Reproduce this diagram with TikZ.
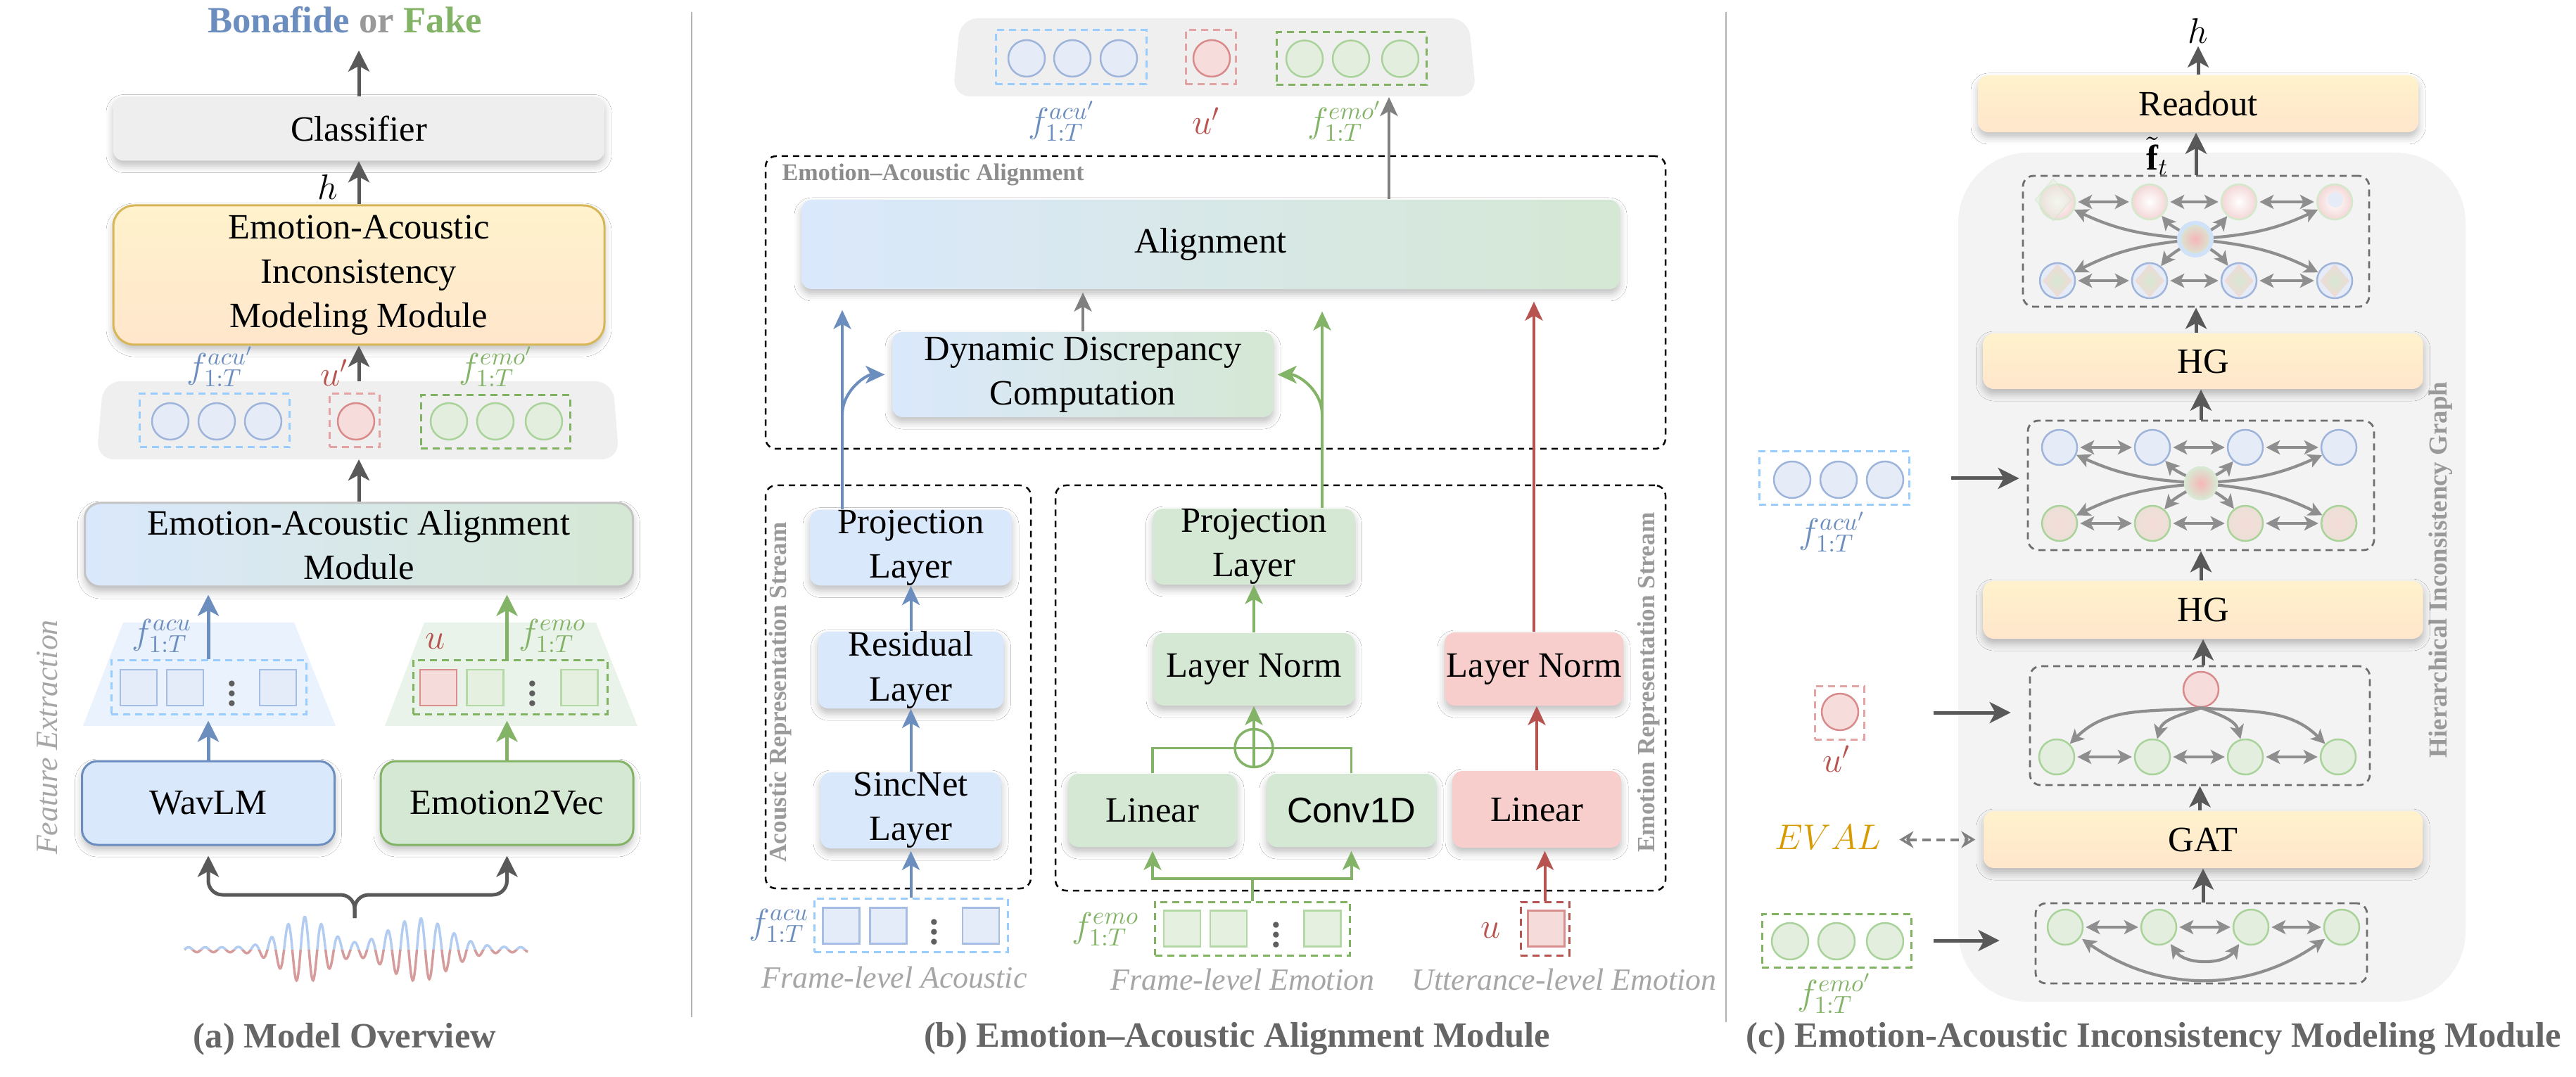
\documentclass[tikz,border=0pt]{standalone}
\usepackage{fontspec}
\setmainfont{Liberation Serif}
\newfontfamily\convfont{Liberation Sans}
\usetikzlibrary{arrows.meta,shapes.geometric,shadows.blur}

\definecolor{bluestroke}{HTML}{6C8EBF}
\definecolor{bluefill}{HTML}{DAE8FC}
\definecolor{greenstroke}{HTML}{82B366}
\definecolor{greenfill}{HTML}{D5E8D4}
\definecolor{redstroke}{HTML}{B85450}
\definecolor{redfill}{HTML}{F8CECC}
\definecolor{goldtop}{HTML}{FFF2CC}
\definecolor{goldbot}{HTML}{FFE6CC}
\definecolor{goldstroke}{HTML}{D6B656}
\definecolor{clsgray}{HTML}{EEEEEE}
\definecolor{stripgray}{HTML}{EFEFEF}
\definecolor{bggray}{HTML}{F3F3F3}
\definecolor{arrowgray}{HTML}{595959}
\definecolor{midgray}{HTML}{808080}
\definecolor{orgray}{HTML}{999999}
\definecolor{captgray}{HTML}{666666}
\definecolor{regiongray}{HTML}{8C8C8C}
\definecolor{streamgray}{HTML}{9A9A9A}
\definecolor{italgray}{HTML}{A6A6A6}
\definecolor{eaamgray}{HTML}{C4C4C4}
\definecolor{acudash}{HTML}{99CCFF}
\definecolor{udash}{HTML}{E3A3A3}
\definecolor{emodash}{HTML}{7FB362}
\definecolor{acucircdraw}{HTML}{9EB4DA}
\definecolor{acucircfill}{HTML}{E5ECF7}
\definecolor{ucircdraw}{HTML}{D98A8A}
\definecolor{ucircfill}{HTML}{F7DCDC}
\definecolor{emocircdraw}{HTML}{A9D39A}
\definecolor{emocircfill}{HTML}{E3EEDF}
\definecolor{acusqdraw}{HTML}{A6BEE4}
\definecolor{acusqfill}{HTML}{E4ECFA}
\definecolor{emosqdraw}{HTML}{B5D8A7}
\definecolor{emosqfill}{HTML}{E5F0E1}
\definecolor{usqdraw}{HTML}{D98E8E}
\definecolor{usqfill}{HTML}{F5DCDA}
\definecolor{wavblue}{HTML}{B3CDF2}
\definecolor{wavred}{HTML}{D69C9C}
\definecolor{edgegray}{HTML}{8E8E8E}
\definecolor{dashgray}{HTML}{6E6E6E}
\definecolor{divgray}{HTML}{B3B3B3}
\definecolor{evalgold}{HTML}{D79B00}
\definecolor{dotgray}{HTML}{5F5F5F}
\definecolor{pinkouter}{HTML}{F4D6D6}
\definecolor{beigeouter}{HTML}{EBE0D6}
\definecolor{centerred}{HTML}{F5B7B7}
\definecolor{centergreen}{HTML}{D9E8D3}
\definecolor{centerring}{HTML}{CFE2F8}
\definecolor{pinkdia}{HTML}{F1D9D6}
\definecolor{greendia}{HTML}{D6E8D2}

\tikzset{
  modbox/.style={rounded corners=0.15cm, align=center, font=\Large, inner sep=0pt,
    blur shadow={shadow xshift=0cm, shadow yshift=-0.07cm, shadow blur radius=0.1cm, shadow opacity=25}},
  bluebox/.style={modbox, fill=bluefill},
  greenbox/.style={modbox, fill=greenfill},
  redbox/.style={modbox, fill=redfill},
  mixbox/.style={modbox, left color=bluefill, right color=greenfill},
  goldbox/.style={modbox, top color=goldtop, bottom color=goldbot},
  graybox/.style={modbox, fill=clsgray},
  regionbox/.style={draw=black, line width=0.025cm, dash pattern=on 0.09cm off 0.07cm, rounded corners=0.15cm, inner sep=0pt},
  graphbox/.style={draw=dashgray, line width=0.028cm, dash pattern=on 0.1cm off 0.07cm, rounded corners=0.15cm, inner sep=0pt},
  featbox/.style={line width=0.03cm, dash pattern=on 0.1cm off 0.07cm, inner sep=0pt, minimum height=0.76cm},
  acucirc/.style={circle, draw=acucircdraw, fill=acucircfill, line width=0.025cm, minimum size=0.52cm, inner sep=0pt},
  ucirc/.style={circle, draw=ucircdraw, fill=ucircfill, line width=0.025cm, minimum size=0.52cm, inner sep=0pt},
  emocirc/.style={circle, draw=emocircdraw, fill=emocircfill, line width=0.025cm, minimum size=0.52cm, inner sep=0pt},
  acusq/.style={draw=acusqdraw, fill=acusqfill, line width=0.025cm, minimum width=0.52cm, minimum height=0.51cm, inner sep=0pt},
  emosq/.style={draw=emosqdraw, fill=emosqfill, line width=0.025cm, minimum width=0.52cm, minimum height=0.51cm, inner sep=0pt},
  usq/.style={draw=usqdraw, fill=usqfill, line width=0.025cm, minimum width=0.52cm, minimum height=0.51cm, inner sep=0pt},
  dotlab/.style={text=dotgray, font=\Large\bfseries, inner sep=0pt},
  gnode/.style={circle, line width=0.025cm, minimum size=0.5cm, inner sep=0pt},
  flow/.style={-{Stealth[length=0.3cm,width=0.3cm,inset=0.08cm]}, line width=0.05cm, draw=arrowgray},
  flowb/.style={-{Stealth[length=0.27cm,width=0.25cm,inset=0.07cm]}, line width=0.04cm},
  gedge/.style={draw=edgegray, line width=0.042cm},
  gtip/.style={-{Stealth[length=0.2cm,width=0.2cm,inset=0.05cm]}},
  gboth/.style={{Stealth[length=0.2cm,width=0.2cm,inset=0.05cm]}-{Stealth[length=0.2cm,width=0.2cm,inset=0.05cm]}, shorten <=0.03cm, shorten >=0.03cm},
  mathlab/.style={font=\Large, inner sep=1pt},
  captionlab/.style={font=\Large\bfseries, text=captgray, inner sep=1pt},
  italcap/.style={font=\fontsize{12.5}{15}\selectfont\itshape, text=italgray, inner sep=1pt},
  streamlab/.style={font=\fontsize{10}{12}\selectfont\bfseries, text=streamgray, rotate=90, inner sep=1pt},
}

\begin{document}
\begin{tikzpicture}[declare function={wavenv(\x)=0.035+0.43*exp(max(-9,-(\x-4.33)*(\x-4.33)/0.2))+0.41*exp(max(-9,-(\x-5.95)*(\x-5.95)/0.35));}]
\fill[white] (0,0) rectangle (36.61,-15.31);
\useasboundingbox (0,0) rectangle (36.61,-15.31);

% (a) model overview
\node[font=\fontsize{15}{18}\selectfont\bfseries, anchor=base, inner sep=1pt] (verdict) at (4.90,-0.47) {\textcolor{bluestroke}{Bonafide} \textcolor{orgray}{or} \textcolor{greenstroke}{Fake}};
\node[graybox, minimum width=6.98cm, minimum height=0.91cm] (cls) at (5.10,-1.83) {Classifier};
\node[goldbox, draw=goldstroke, line width=0.03cm, rounded corners=0.3cm, minimum width=6.98cm, minimum height=1.98cm] (eaim) at (5.10,-3.91) {Emotion-Acoustic\\Inconsistency\\Modeling Module};
\node[mathlab] (hA) at (4.66,-2.66) {$h$};
\draw[flow, shorten >=0.2cm] (cls.north) -- (cls.north |- verdict.south);
\draw[flow] (eaim.north) -- (cls.south);

\fill[stripgray, rounded corners=0.25cm] (1.47,-5.42) -- (8.71,-5.42) -- (8.80,-6.53) -- (1.37,-6.53) -- cycle;
\coordinate (stripAtop) at (5.10,-5.42);
\coordinate (stripAbot) at (5.10,-6.53);
\node[featbox, draw=acudash, minimum width=2.13cm] (acuA) at (3.05,-5.98) {};
\node[acucirc] (acuA1) at (2.42,-5.99) {};
\node[acucirc] (acuA2) at (3.08,-5.99) {};
\node[acucirc] (acuA3) at (3.74,-5.99) {};
\node[featbox, draw=udash, minimum width=0.71cm] (uA) at (5.04,-5.98) {};
\node[ucirc] (uA1) at (5.06,-5.99) {};
\node[featbox, draw=emodash, minimum width=2.12cm] (emoA) at (7.04,-6.00) {};
\node[emocirc] (emoA1) at (6.38,-5.99) {};
\node[emocirc] (emoA2) at (7.04,-5.99) {};
\node[emocirc] (emoA3) at (7.73,-5.99) {};
\node[mathlab, text=bluestroke] (acuAlab) at (3.13,-5.21) {$f_{1:T}^{acu'}$};
\node[mathlab, text=redstroke] (uAlab) at (4.75,-5.30) {$u'$};
\node[mathlab, text=greenstroke] (emoAlab) at (7.05,-5.21) {$f_{1:T}^{emo'}$};
\draw[flow] (stripAtop) -- (stripAtop |- eaim.south);

\node[mixbox, draw=eaamgray, line width=0.03cm, rounded corners=0.22cm, minimum width=7.79cm, minimum height=1.19cm] (eaamA) at (5.10,-7.745) {Emotion-Acoustic Alignment\\Module};
\draw[flow] (eaamA.north) -- (stripAbot);

\fill[bluefill, opacity=0.55] (1.75,-8.85) -- (4.18,-8.85) -- (4.77,-10.32) -- (1.18,-10.32) -- cycle;
\fill[greenfill, opacity=0.5] (6.03,-8.85) -- (8.47,-8.85) -- (9.06,-10.32) -- (5.47,-10.32) -- cycle;

\node[featbox, draw=acudash, minimum width=2.77cm, minimum height=0.77cm] (acuF) at (2.965,-9.765) {};
\node[acusq] (acuF1) at (1.97,-9.775) {};
\node[acusq] (acuF2) at (2.63,-9.775) {};
\node[dotlab] (acuFdots) at (3.30,-9.76) {$\vdots$};
\node[acusq] (acuF3) at (3.95,-9.775) {};
\node[featbox, draw=emodash, minimum width=2.76cm, minimum height=0.77cm] (emoF) at (7.25,-9.765) {};
\node[usq] (uF1) at (6.23,-9.775) {};
\node[emosq] (emoF1) at (6.895,-9.775) {};
\node[dotlab] (emoFdots) at (7.57,-9.76) {$\vdots$};
\node[emosq] (emoF2) at (8.235,-9.775) {};
\node[mathlab, text=bluestroke] (acuFlab) at (2.30,-9.04) {$f_{1:T}^{acu}$};
\node[mathlab, text=redstroke] (uFlab) at (6.19,-9.12) {$u$};
\node[mathlab, text=greenstroke] (emoFlab) at (7.85,-9.04) {$f_{1:T}^{emo}$};

\node[bluebox, draw=bluestroke, line width=0.03cm, rounded corners=0.22cm, minimum width=3.59cm, minimum height=1.19cm] (wav) at (2.96,-11.415) {WavLM};
\node[greenbox, draw=greenstroke, line width=0.03cm, rounded corners=0.22cm, minimum width=3.59cm, minimum height=1.19cm] (e2v) at (7.205,-11.415) {Emotion2Vec};
\draw[flow, draw=bluestroke, shorten >=0.08cm] (wav.north) -- (wav.north |- acuF.south);
\draw[flow, draw=bluestroke, shorten >=0.1cm] (acuF.north -| wav.north) -- (wav.north |- eaamA.south);
\draw[flow, draw=greenstroke, shorten >=0.08cm] (e2v.north) -- (e2v.north |- emoF.south);
\draw[flow, draw=greenstroke, shorten >=0.1cm] (emoF.north -| e2v.north) -- (e2v.north |- eaamA.south);

\coordinate (wavtop) at (5.04,-13.05);
\draw[flow, rounded corners=0.2cm, shorten >=0.14cm] (wavtop) -- ++(0,0.33) -| (wav.south);
\draw[flow, rounded corners=0.2cm, shorten >=0.14cm] (wavtop) -- ++(0,0.33) -| (e2v.south);
\begin{scope}
\clip (2.5,-12.8) rectangle (7.6,-13.50);
\draw[wavblue, line width=0.035cm] plot[domain=2.62:7.50, samples=600] (\x,{-13.50+wavenv(\x)*sin(1525*(\x-2.62))});
\end{scope}
\begin{scope}
\clip (2.5,-13.50) rectangle (7.6,-14.2);
\draw[wavred, line width=0.035cm] plot[domain=2.62:7.50, samples=600] (\x,{-13.50+wavenv(\x)*sin(1525*(\x-2.62))});
\end{scope}

\node[rotate=90, font=\fontsize{12.5}{15}\selectfont\itshape, text=italgray, inner sep=1pt] (featext) at (0.67,-10.48) {Feature Extraction};
\node[captionlab] (capA) at (4.90,-14.77) {(a) Model Overview};
\draw[divgray, line width=0.02cm] (9.83,-0.17) -- (9.83,-14.46);

% (b) emotion-acoustic alignment module
\fill[stripgray, rounded corners=0.25cm] (13.65,-0.26) -- (20.87,-0.26) -- (20.98,-1.37) -- (13.54,-1.37) -- cycle;
\node[featbox, draw=acudash, minimum width=2.14cm, minimum height=0.77cm] (acuT) at (15.22,-0.815) {};
\node[acucirc] (acuT1) at (14.59,-0.83) {};
\node[acucirc] (acuT2) at (15.24,-0.83) {};
\node[acucirc] (acuT3) at (15.90,-0.83) {};
\node[featbox, draw=udash, minimum width=0.71cm, minimum height=0.77cm] (uT) at (17.205,-0.815) {};
\node[ucirc] (uT1) at (17.22,-0.83) {};
\node[featbox, draw=emodash, minimum width=2.13cm, minimum height=0.75cm] (emoT) at (19.205,-0.835) {};
\node[emocirc] (emoT1) at (18.54,-0.835) {};
\node[emocirc] (emoT2) at (19.20,-0.835) {};
\node[emocirc] (emoT3) at (19.90,-0.835) {};
\node[mathlab, text=bluestroke] (acuTlab) at (15.09,-1.72) {$f_{1:T}^{acu'}$};
\node[mathlab, text=redstroke] (uTlab) at (17.14,-1.72) {$u'$};
\node[mathlab, text=greenstroke] (emoTlab) at (19.11,-1.72) {$f_{1:T}^{emo'}$};
\coordinate (stripBbot) at (19.74,-1.38);

\node[regionbox, minimum width=12.79cm, minimum height=4.16cm] (eaareg) at (17.275,-4.30) {};
\node[anchor=west, font=\fontsize{9.7}{11}\selectfont\bfseries, text=regiongray, inner sep=0pt] (eaaregtitle) at (11.11,-2.48) {Emotion--Acoustic Alignment};
\node[mixbox, minimum width=11.63cm, minimum height=1.27cm] (align) at (17.205,-3.475) {Alignment};
\node[mixbox, minimum width=5.42cm, minimum height=1.21cm] (ddc) at (15.39,-5.325) {Dynamic Discrepancy\\Computation};
\draw[flowb, draw=midgray] (align.north -| stripBbot) -- (stripBbot);
\draw[flowb, draw=midgray, shorten >=0.04cm] (ddc.north) -- (ddc.north |- align.south);

\node[regionbox, minimum width=3.77cm, minimum height=5.73cm] (acustream) at (12.765,-9.765) {};
\node[regionbox, minimum width=8.67cm, minimum height=5.76cm] (emostream) at (19.335,-9.78) {};
\node[streamlab] (acustreamlab) at (11.09,-9.84) {Acoustic Representation Stream};
\node[streamlab] (emostreamlab) at (23.43,-9.70) {Emotion Representation Stream};

\node[bluebox, minimum width=2.87cm, minimum height=1.07cm] (proj) at (12.945,-7.785) {Projection\\Layer};
\node[bluebox, minimum width=2.64cm, minimum height=1.05cm] (res) at (12.945,-9.525) {Residual\\Layer};
\node[bluebox, minimum width=2.57cm, minimum height=1.08cm] (sinc) at (12.945,-11.52) {SincNet\\Layer};
\draw[flowb, draw=bluestroke] (sinc.north) -- (res.south);
\draw[flowb, draw=bluestroke] (res.north) -- (proj.south);

\node[greenbox, minimum width=2.87cm, minimum height=1.04cm] (gproj) at (17.82,-7.77) {Projection\\Layer};
\node[greenbox, minimum width=2.86cm, minimum height=1.03cm] (gln) at (17.82,-9.515) {Layer Norm};
\node[greenbox, minimum width=2.40cm, minimum height=1.04cm] (glin) at (16.38,-11.52) {Linear};
\node[greenbox, minimum width=2.41cm, minimum height=1.04cm] (gconv) at (19.205,-11.52) {{\convfont Conv1D}};
\node[circle, draw=greenstroke, line width=0.035cm, minimum size=0.54cm, inner sep=0pt] (oplus) at (17.82,-10.635) {};
\draw[greenstroke, line width=0.035cm] (oplus.north) -- (oplus.south);
\draw[greenstroke, line width=0.035cm] (glin.north) |- (oplus.east);
\draw[greenstroke, line width=0.035cm] (gconv.north) |- (oplus.west);
\draw[flowb, draw=greenstroke] (oplus.north) -- (gln.south);
\draw[flowb, draw=greenstroke] (gln.north) -- (gproj.south);

\node[redbox, minimum width=2.54cm, minimum height=1.04cm] (rln) at (21.80,-9.51) {Layer Norm};
\node[redbox, minimum width=2.40cm, minimum height=1.09cm] (rlin) at (21.84,-11.505) {Linear};
\draw[flowb, draw=redstroke] (rlin.north) -- (rlin.north |- rln.south);

\coordinate (bluefork) at (11.97,-5.90);
\coordinate (greenfork) at (18.79,-5.90);
\draw[flowb, draw=bluestroke, shorten >=0.29cm] (proj.north -| bluefork) -- (align.south -| bluefork);
\draw[flowb, draw=bluestroke, shorten >=0.1cm] (bluefork) to[out=90, in=180] (ddc.west);
\draw[flowb, draw=greenstroke, shorten >=0.31cm] (gproj.north -| greenfork) -- (align.south -| greenfork);
\draw[flowb, draw=greenstroke, shorten >=0.05cm] (greenfork) to[out=90, in=0] (ddc.east);
\draw[flowb, draw=redstroke, shorten >=0.17cm] (rln.north) -- (rln.north |- align.south);

\node[featbox, draw=acudash, minimum width=2.75cm] (acuB) at (12.945,-13.15) {};
\node[acusq] (acuB1) at (11.955,-13.16) {};
\node[acusq] (acuB2) at (12.625,-13.16) {};
\node[dotlab] (acuBdots) at (13.28,-13.15) {$\vdots$};
\node[acusq] (acuB3) at (13.94,-13.16) {};
\node[mathlab, text=bluestroke] (acuBlab) at (11.07,-13.16) {$f_{1:T}^{acu}$};
\draw[flowb, draw=bluestroke, shorten >=0.03cm] (acuB.north) -- (sinc.south);

\node[featbox, draw=emodash, minimum width=2.77cm] (emoB) at (17.80,-13.20) {};
\node[emosq] (emoB1) at (16.80,-13.20) {};
\node[emosq] (emoB2) at (17.46,-13.20) {};
\node[dotlab] (emoBdots) at (18.14,-13.19) {$\vdots$};
\node[emosq] (emoB3) at (18.795,-13.20) {};
\node[mathlab, text=greenstroke] (emoBlab) at (15.71,-13.21) {$f_{1:T}^{emo}$};
\coordinate (gsplit) at (17.80,-12.49);
\draw[greenstroke, line width=0.035cm] (emoB.north) -- (gsplit);
\draw[flowb, draw=greenstroke, shorten >=0.05cm] (gsplit) -| (glin.south);
\draw[flowb, draw=greenstroke, shorten >=0.05cm] (gsplit) -| (gconv.south);

\node[featbox, draw=redstroke, minimum width=0.69cm] (uB) at (21.955,-13.20) {};
\node[usq] (uB1) at (21.975,-13.20) {};
\node[mathlab, text=redstroke] (uBlab) at (21.19,-13.23) {$u$};
\draw[flowb, draw=redstroke, shorten >=0.04cm] (uB.north) -- (uB.north |- rlin.south);

\node[italcap] (acuBcap) at (12.71,-13.90) {Frame-level Acoustic};
\node[italcap] (emoBcap) at (17.66,-13.92) {Frame-level Emotion};
\node[italcap] (uBcap) at (22.23,-13.92) {Utterance-level Emotion};
\node[captionlab] (capB) at (17.58,-14.77) {(b) Emotion--Acoustic Alignment Module};
\draw[divgray, line width=0.02cm] (24.53,-0.17) -- (24.53,-14.53);

% (c) emotion-acoustic inconsistency modeling module
\fill[bggray, rounded corners=1cm] (27.83,-2.17) rectangle (35.04,-14.24);
\node[streamlab, font=\fontsize{10.5}{12}\selectfont\bfseries, text=orgray] (hiclab) at (34.69,-8.10) {Hierarchical Inconsistency Graph};

\node[mathlab] (hC) at (31.24,-0.44) {$h$};
\node[goldbox, minimum width=6.26cm, minimum height=0.81cm] (readout) at (31.24,-1.475) {Readout};
\draw[flow] (readout.north) -- (readout.north |- hC.south);
\node[mathlab] (ftC) at (30.66,-2.22) {$\tilde{\mathbf{f}}_t$};

% top graph
\node[graphbox, minimum width=4.92cm, minimum height=1.86cm] (hgA) at (31.21,-3.43) {};
\node[gnode, draw=emocircdraw!50, inner color=white, outer color=pinkouter] (hgAt1) at (29.24,-2.87) {};
\node[gnode, draw=emocircdraw!50, inner color=white, outer color=pinkouter] (hgAt2) at (30.55,-2.87) {};
\node[gnode, draw=emocircdraw!50, inner color=white, outer color=pinkouter] (hgAt3) at (31.82,-2.87) {};
\node[gnode, draw=emocircdraw!50, inner color=white, outer color=pinkouter] (hgAt4) at (33.18,-2.87) {};
\node[diamond, inner sep=0pt, minimum width=0.52cm, minimum height=0.6cm, draw=emocircdraw!60, fill=emocircfill, opacity=0.45] (hgAt1d) at (29.18,-2.84) {};
\node[circle, inner sep=0pt, minimum size=0.22cm, fill=acucircfill] (hgAt4d) at (33.19,-2.84) {};
\node[gnode, draw=acucircdraw, fill=acucircfill] (hgAb1) at (29.24,-3.99) {};
\node[gnode, draw=acucircdraw, fill=acucircfill] (hgAb2) at (30.55,-3.99) {};
\node[gnode, draw=acucircdraw, fill=acucircfill] (hgAb3) at (31.82,-3.99) {};
\node[gnode, draw=acucircdraw, fill=acucircfill] (hgAb4) at (33.18,-3.99) {};
\node[diamond, inner sep=0pt, minimum width=0.42cm, minimum height=0.48cm, inner color=greendia, outer color=pinkdia] (hgAd1) at (hgAb1) {};
\node[diamond, inner sep=0pt, minimum width=0.42cm, minimum height=0.48cm, inner color=greendia, outer color=pinkdia] (hgAd2) at (hgAb2) {};
\node[diamond, inner sep=0pt, minimum width=0.42cm, minimum height=0.48cm, inner color=greendia, outer color=pinkdia] (hgAd3) at (hgAb3) {};
\node[diamond, inner sep=0pt, minimum width=0.42cm, minimum height=0.48cm, inner color=greendia, outer color=pinkdia] (hgAd4) at (hgAb4) {};
\node[gnode, minimum size=0.46cm, draw=centerring, line width=0.06cm, inner color=centerred, outer color=centergreen] (hgAc) at (31.20,-3.40) {};
\foreach \i/\j in {1/2,2/3,3/4} {
  \draw[gedge, gboth] (hgAt\i) -- (hgAt\j);
  \draw[gedge, gboth] (hgAb\i) -- (hgAb\j);
}
\draw[gedge, gtip] (hgAc) to[bend left=10] (hgAt1);
\draw[gedge, gtip] (hgAc) to[bend left=10] (hgAt2);
\draw[gedge, gtip] (hgAc) to[bend right=10] (hgAt3);
\draw[gedge, gtip] (hgAc) to[bend right=10] (hgAt4);
\draw[gedge, gtip] (hgAc) to[bend right=10] (hgAb1);
\draw[gedge, gtip] (hgAc) to[bend right=10] (hgAb2);
\draw[gedge, gtip] (hgAc) to[bend left=10] (hgAb3);
\draw[gedge, gtip] (hgAc) to[bend left=10] (hgAb4);
\draw[flow] (hgA.north) -- (hgA.north |- readout.south);

\node[goldbox, minimum width=6.25cm, minimum height=0.79cm] (hgUp) at (31.31,-5.135) {HG};
\draw[flow] (hgUp.north -| hgA.south) -- (hgA.south);

% second graph
\node[graphbox, minimum width=4.92cm, minimum height=1.84cm] (hgB) at (31.28,-6.90) {};
\node[gnode, draw=acucircdraw, fill=acucircfill] (hgBt1) at (29.27,-6.36) {};
\node[gnode, draw=acucircdraw, fill=acucircfill] (hgBt2) at (30.59,-6.36) {};
\node[gnode, draw=acucircdraw, fill=acucircfill] (hgBt3) at (31.91,-6.36) {};
\node[gnode, draw=acucircdraw, fill=acucircfill] (hgBt4) at (33.24,-6.36) {};
\node[gnode, draw=emocircdraw, inner color=usqfill, outer color=beigeouter] (hgBb1) at (29.27,-7.44) {};
\node[gnode, draw=emocircdraw, inner color=usqfill, outer color=beigeouter] (hgBb2) at (30.59,-7.44) {};
\node[gnode, draw=emocircdraw, inner color=usqfill, outer color=beigeouter] (hgBb3) at (31.91,-7.44) {};
\node[gnode, draw=emocircdraw, inner color=usqfill, outer color=beigeouter] (hgBb4) at (33.24,-7.44) {};
\node[gnode, minimum size=0.46cm, draw=centergreen, inner color=centerred, outer color=centergreen] (hgBc) at (31.28,-6.87) {};
\foreach \i/\j in {1/2,2/3,3/4} {
  \draw[gedge, gboth] (hgBt\i) -- (hgBt\j);
  \draw[gedge, gboth] (hgBb\i) -- (hgBb\j);
}
\draw[gedge, gtip] (hgBc) to[bend left=10] (hgBt1);
\draw[gedge, gtip] (hgBc) to[bend left=10] (hgBt2);
\draw[gedge, gtip] (hgBc) to[bend right=10] (hgBt3);
\draw[gedge, gtip] (hgBc) to[bend right=10] (hgBt4);
\draw[gedge, gtip] (hgBc) to[bend right=10] (hgBb1);
\draw[gedge, gtip] (hgBc) to[bend right=10] (hgBb2);
\draw[gedge, gtip] (hgBc) to[bend left=10] (hgBb3);
\draw[gedge, gtip] (hgBc) to[bend left=10] (hgBb4);
\draw[flow] (hgB.north) -- (hgB.north |- hgUp.south);

\node[goldbox, minimum width=6.25cm, minimum height=0.82cm] (hgLow) at (31.31,-8.67) {HG};
\draw[flow] (hgLow.north -| hgB.south) -- (hgB.south);

% third graph
\node[graphbox, minimum width=4.83cm, minimum height=1.69cm] (hgC) at (31.265,-10.315) {};
\node[gnode, draw=ucircdraw, fill=ucircfill] (hgCr) at (31.28,-9.80) {};
\node[gnode, draw=emocircdraw, fill=emocircfill] (hgCb1) at (29.23,-10.76) {};
\node[gnode, draw=emocircdraw, fill=emocircfill] (hgCb2) at (30.59,-10.76) {};
\node[gnode, draw=emocircdraw, fill=emocircfill] (hgCb3) at (31.91,-10.76) {};
\node[gnode, draw=emocircdraw, fill=emocircfill] (hgCb4) at (33.23,-10.76) {};
\foreach \i/\j in {1/2,2/3,3/4} {
  \draw[gedge, gboth] (hgCb\i) -- (hgCb\j);
}
\draw[gedge, gtip] (hgCr.south) to[out=185, in=45] (hgCb1);
\draw[gedge, gtip] (hgCr.south) to[out=200, in=75] (hgCb2);
\draw[gedge, gtip] (hgCr.south) to[out=-20, in=105] (hgCb3);
\draw[gedge, gtip] (hgCr.south) to[out=-5, in=135] (hgCb4);
\draw[flow] (hgC.north -| hgLow.south) -- (hgLow.south);

\node[goldbox, minimum width=6.24cm, minimum height=0.81cm] (gat) at (31.31,-11.935) {GAT};
\draw[flow] (gat.north -| hgC.south) -- (hgC.south);

% bottom graph
\node[graphbox, minimum width=4.71cm, minimum height=1.14cm] (hgD) at (31.285,-13.41) {};
\node[gnode, draw=emocircdraw, fill=emocircfill] (hgDb1) at (29.35,-13.18) {};
\node[gnode, draw=emocircdraw, fill=emocircfill] (hgDb2) at (30.68,-13.18) {};
\node[gnode, draw=emocircdraw, fill=emocircfill] (hgDb3) at (31.99,-13.18) {};
\node[gnode, draw=emocircdraw, fill=emocircfill] (hgDb4) at (33.28,-13.18) {};
\foreach \i/\j in {1/2,2/3,3/4} {
  \draw[gedge, gboth] (hgDb\i) -- (hgDb\j);
}
\draw[gedge, gboth] (hgDb1) to[out=-35, in=-145] (hgDb4);
\draw[gedge, gboth] (hgDb2) to[out=-55, in=-125] (hgDb3);
\draw[flow] (hgD.north -| gat.south) -- (gat.south);

% inputs of (c)
\node[featbox, draw=acudash, minimum width=2.13cm] (acuC) at (26.065,-6.80) {};
\node[acucirc] (acuC1) at (25.47,-6.82) {};
\node[acucirc] (acuC2) at (26.13,-6.82) {};
\node[acucirc] (acuC3) at (26.79,-6.82) {};
\node[mathlab, text=bluestroke] (acuClab) at (26.04,-7.56) {$f_{1:T}^{acu'}$};
\draw[flow, shorten <=0.58cm, shorten >=0.11cm] (acuC.east) -- (acuC.east -| hgB.west);

\node[featbox, draw=udash, minimum width=0.70cm] (uC) at (26.14,-10.13) {};
\node[ucirc] (uC1) at (26.15,-10.12) {};
\node[mathlab, text=redstroke] (uClab) at (26.10,-10.79) {$u'$};
\draw[flow, shorten <=0.97cm, shorten >=0.26cm] (uC.east) -- (uC.east -| hgC.west);

\node[font=\fontsize{15}{18}\selectfont, text=evalgold, inner sep=1pt] (evalC) at (25.98,-11.90) {$EVAL$};
\draw[draw=midgray, line width=0.04cm, dash pattern=on 0.12cm off 0.08cm, {Stealth[open,length=0.2cm,width=0.24cm]}-{Stealth[open,length=0.2cm,width=0.24cm]}, shorten <=0.22cm, shorten >=0.11cm] (evalC.east |- gat.west) -- (gat.west);

\node[featbox, draw=emodash, minimum width=2.12cm] (emoC) at (26.10,-13.37) {};
\node[emocirc] (emoC1) at (25.44,-13.38) {};
\node[emocirc] (emoC2) at (26.10,-13.38) {};
\node[emocirc] (emoC3) at (26.79,-13.38) {};
\node[mathlab, text=greenstroke] (emoClab) at (26.07,-14.12) {$f_{1:T}^{emo'}$};
\draw[flow, shorten <=0.3cm, shorten >=0.5cm] (emoC.east) -- (emoC.east -| hgD.west);

\node[captionlab] (capC) at (30.61,-14.77) {(c) Emotion-Acoustic Inconsistency Modeling Module};
\end{tikzpicture}
\end{document}
